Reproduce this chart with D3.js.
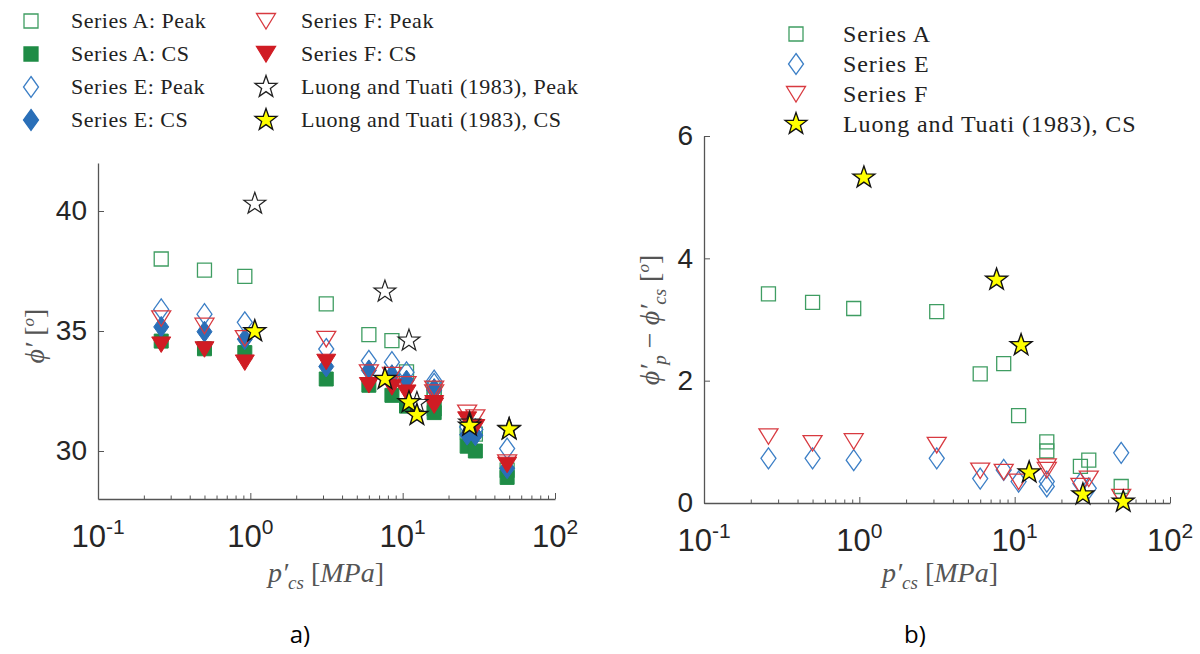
<!DOCTYPE html>
<html>
<head>
<meta charset="utf-8">
<script src="https://cdn.jsdelivr.net/npm/d3@7"></script>
<style>
  body { margin: 0; background: #fff; }
  svg { display: block; }
</style>
</head>
<body>
<div id="chart"></div>
<script>
// Confining pressure at critical state [MPa], shared by series A, E, F
const pcs = [0.26, 0.5, 0.92, 3.15, 6.0, 8.5, 10.6, 16.1, 16.1, 26.5, 30, 48.5];

// Series A
const aPeak = [38.0, 37.54, 37.28, 36.13, 34.85, 34.6, 33.3, 32.6, 32.6, 30.8, 30.7, 29.2];
const aCS   = [34.58, 34.26, 34.1, 33.0, 32.74, 32.32, 31.87, 31.6, 31.75, 30.2, 30.0, 28.9];
const aDiff = [3.42, 3.28, 3.18, 3.13, 2.11, 2.28, 1.43, 1.0, 0.85, 0.6, 0.7, 0.27];

// Series E
const ePeak = [35.9, 35.7, 35.36, 34.25, 33.76, 33.7, 33.28, 32.93, 32.8, 31.0, 30.9, 30.1];
const eCS   = [35.17, 34.97, 34.66, 33.52, 33.36, 33.16, 32.93, 32.58, 32.53, 30.68, 30.66, 29.28];
const eDiff = [0.73, 0.73, 0.70, 0.73, 0.40, 0.54, 0.35, 0.35, 0.27, 0.32, 0.24, 0.82];

// Series F
const fPeak = [35.53, 35.22, 34.7, 34.67, 33.28, 33.17, 32.79, 32.6, 32.44, 31.6, 31.4, 29.53];
const fCS   = [34.44, 34.24, 33.69, 33.72, 32.75, 32.66, 32.44, 32.0, 31.9, 31.32, 31.0, 29.43];
const fDiff = [1.09, 0.98, 1.01, 0.95, 0.53, 0.51, 0.35, 0.60, 0.54, 0.28, 0.40, 0.10];

// Luong and Tuati (1983)
const luongP    = [1.07, 7.65, 11.0, 12.4, 27.5, 50];
const luongPeak = [40.3, 36.64, 34.6, 32.0, 31.18, 30.92];
const luongCS   = [34.99, 33.0, 32.03, 31.5, 31.05, 30.9];
const luongDiff = [5.32, 3.65, 2.58, 0.50, 0.14, 0.02];

// ticks
const xMajor = [0.1, 1, 10, 100];
const xExp = ["-1", "0", "1", "2"];
const yTicksA = [30, 35, 40];
const yTicksB = [0, 2, 4, 6];

// legend labels
const legendA = ["Series A: Peak", "Series A: CS", "Series E: Peak", "Series E: CS",
                 "Series F: Peak", "Series F: CS", "Luong and Tuati (1983), Peak", "Luong and Tuati (1983), CS"];
const legendB = ["Series A", "Series E", "Series F", "Luong and Tuati (1983), CS"];

const w = 1200, h = 654;
const green = "#1f8c46", blue = "#2a6fb8", red = "#d01c24", yellow = "#ffff00";
const axisCol = "#555";

const svg = d3.select("#chart").append("svg").attr("width", w).attr("height", h);

// minor log ticks 2..9 per decade
var xMinor = [];
for (var e = -1; e < 2; e++) {
    for (var m = 2; m < 10; m++) xMinor.push(m * Math.pow(10, e));
}

// marker shapes, centred on 0,0
function marker(shape) {
    if (shape == "square") return "M-7,-7H7V7H-7Z";
    if (shape == "diamond") return "M0,-10.5L7.5,0L0,10.5L-7.5,0Z";
    if (shape == "tri") return "M-9.5,-7.5H9.5L0,8Z";
    // pentagram
    var p = [];
    for (var i = 0; i < 10; i++) {
        var r = i % 2 == 0 ? 11.5 : 4.6;
        var a = -Math.PI / 2 + i * Math.PI / 5;
        p.push([r * Math.cos(a), r * Math.sin(a)]);
    }
    return "M" + p.map(function (d) { return d[0].toFixed(2) + "," + d[1].toFixed(2); }).join("L") + "Z";
}

function drawPoints(g, xs, ys, x, y, shape, fill, stroke, sw) {
    g.append("g").selectAll("path")
        .data(xs.map(function (d, i) { return [d, ys[i]]; }))
        .enter()
        .append("path")
        .attr("d", marker(shape))
        .attr("transform", function (d) { return "translate(" + x(d[0]) + "," + y(d[1]) + ")"; })
        .style("fill", fill)
        .style("stroke", stroke)
        .style("stroke-width", sw)
        .style("stroke-linejoin", "miter");
}

function drawXAxis(x, y0) {
    var g = svg.append("g").attr("transform", "translate(0," + y0 + ")");
    g.call(d3.axisBottom(x).tickValues(xMajor).tickSizeInner(-6).tickSizeOuter(0).tickFormat(""));
    g.append("g").call(d3.axisBottom(x).tickValues(xMinor).tickSizeInner(-3.5).tickSizeOuter(0).tickFormat(""))
        .select(".domain").remove();
    g.selectAll("line").attr("stroke", axisCol);
    g.selectAll(".domain").attr("stroke", axisCol).attr("stroke-width", 1.3);
    var t = g.selectAll(".lab").data(xMajor).enter().append("text")
        .attr("x", function (d) { return x(d); })
        .attr("y", 48)
        .attr("text-anchor", "middle")
        .style("font-family", "Liberation Sans, Arial, sans-serif")
        .style("font-size", "31px")
        .style("fill", "#262626");
    t.append("tspan").text("10");
    t.append("tspan").attr("dy", -13).style("font-size", "21px").text(function (d, i) { return xExp[i]; });
}

function drawYAxis(y, x0, ticks) {
    var g = svg.append("g").attr("transform", "translate(" + x0 + ",0)");
    g.call(d3.axisLeft(y).tickValues(ticks).tickSizeInner(-6).tickSizeOuter(0).tickPadding(11).tickFormat(d3.format("d")));
    g.selectAll("line").attr("stroke", axisCol);
    g.selectAll(".domain").attr("stroke", axisCol).attr("stroke-width", 1.3);
    g.selectAll("text")
        .style("font-family", "Liberation Sans, Arial, sans-serif")
        .style("font-size", "28px")
        .style("fill", "#262626");
}

// ---------- panel a ----------
var xA = d3.scaleLog().domain([0.1, 100]).range([98, 555]);
var yA = d3.scaleLinear().domain([28, 42]).range([499, 163]);

drawYAxis(yA, 98, yTicksA);
drawXAxis(xA, 499);

var gA = svg.append("g");
drawPoints(gA, pcs, aPeak, xA, yA, "square", "none", "#3f9d62", 1.3);
drawPoints(gA, pcs, aCS, xA, yA, "square", green, green, 1);
drawPoints(gA, pcs, ePeak, xA, yA, "diamond", "none", "#3c7fc6", 1.3);
drawPoints(gA, pcs, eCS, xA, yA, "diamond", blue, blue, 1);
drawPoints(gA, pcs, fPeak, xA, yA, "tri", "none", "#d83a40", 1.3);
drawPoints(gA, pcs, fCS, xA, yA, "tri", red, red, 1);
drawPoints(gA, luongP, luongPeak, xA, yA, "star", "none", "#222", 1.2);
drawPoints(gA, luongP, luongCS, xA, yA, "star", yellow, "#111", 1.4);

// ---------- panel b ----------
var xB = d3.scaleLog().domain([0.1, 100]).range([704, 1170]);
var yB = d3.scaleLinear().domain([0, 6]).range([503, 136]);

drawYAxis(yB, 704, yTicksB);
drawXAxis(xB, 503);

var gB = svg.append("g");
drawPoints(gB, pcs, aDiff, xB, yB, "square", "none", "#3f9d62", 1.3);
drawPoints(gB, pcs, eDiff, xB, yB, "diamond", "none", "#3c7fc6", 1.3);
drawPoints(gB, pcs, fDiff, xB, yB, "tri", "none", "#d83a40", 1.3);
drawPoints(gB, luongP, luongDiff, xB, yB, "star", yellow, "#111", 1.4);

// ---------- axis titles ----------
var serif = "Liberation Serif, Times New Roman, serif";

function xTitle(cx) {
    var t = svg.append("text")
        .attr("x", cx).attr("y", 582)
        .attr("text-anchor", "middle")
        .style("font-family", serif).style("font-style", "italic")
        .style("font-size", "28px").style("fill", "#555");
    t.append("tspan").text("p′");
    t.append("tspan").attr("dy", 7).style("font-size", "19px").text("cs");
    t.append("tspan").attr("dy", -7).style("font-style", "normal").text(" [");
    t.append("tspan").text("MPa");
    t.append("tspan").style("font-style", "normal").text("]");
}
xTitle(326);
xTitle(940);

// y title panel a
var ta = svg.append("text")
    .attr("transform", "translate(44,336) rotate(-90)")
    .attr("text-anchor", "middle")
    .style("font-family", serif).style("font-style", "italic")
    .style("font-size", "28px").style("fill", "#555");
ta.append("tspan").text("ϕ′ ");
ta.append("tspan").style("font-style", "normal").text("[");
ta.append("tspan").attr("dy", -10).style("font-size", "17px").text("o");
ta.append("tspan").attr("dy", 10).style("font-style", "normal").text("]");

// y title panel b
var tb = svg.append("text")
    .attr("transform", "translate(659,320) rotate(-90)")
    .attr("text-anchor", "middle")
    .style("font-family", serif).style("font-style", "italic")
    .style("font-size", "28px").style("fill", "#555");
tb.append("tspan").text("ϕ′");
tb.append("tspan").attr("dy", 7).style("font-size", "19px").text("p");
tb.append("tspan").attr("dy", -7).style("font-style", "normal").text(" − ");
tb.append("tspan").text("ϕ′");
tb.append("tspan").attr("dy", 7).style("font-size", "19px").text("cs");
tb.append("tspan").attr("dy", -7).style("font-style", "normal").text(" [");
tb.append("tspan").attr("dy", -10).style("font-size", "17px").text("o");
tb.append("tspan").attr("dy", 10).style("font-style", "normal").text("]");

// ---------- legends ----------
var legShapesA = [
    ["square", "none", "#3f9d62"], ["square", green, green], ["diamond", "none", "#3c7fc6"], ["diamond", blue, blue],
    ["tri", "none", "#d83a40"], ["tri", red, red], ["star", "none", "#222"], ["star", yellow, "#111"]
];
var rowsA = [21, 54, 87, 120];
legendA.forEach(function (lab, i) {
    var col = Math.floor(i / 4), row = i % 4;
    var sx = col == 0 ? 31 : 266, tx = col == 0 ? 71 : 301;
    var s = legShapesA[i];
    svg.append("path").attr("d", marker(s[0]))
        .attr("transform", "translate(" + sx + "," + rowsA[row] + ")")
        .style("fill", s[1]).style("stroke", s[2]).style("stroke-width", 1.3);
    svg.append("text").attr("x", tx).attr("y", rowsA[row] + 7)
        .style("font-family", serif).style("font-size", "22px").style("letter-spacing", "0.5px")
        .style("fill", "#222")
        .text(lab);
});

var legShapesB = [["square", "none", "#3f9d62"], ["diamond", "none", "#3c7fc6"], ["tri", "none", "#d83a40"], ["star", yellow, "#111"]];
var rowsB = [34, 64, 94, 124];
legendB.forEach(function (lab, i) {
    var s = legShapesB[i];
    svg.append("path").attr("d", marker(s[0]))
        .attr("transform", "translate(796," + rowsB[i] + ")")
        .style("fill", s[1]).style("stroke", s[2]).style("stroke-width", 1.3);
    svg.append("text").attr("x", 843).attr("y", rowsB[i] + 8)
        .style("font-family", serif).style("font-size", "24px").style("letter-spacing", "0.9px")
        .style("fill", "#222")
        .text(lab);
});

// panel letters
svg.append("text").attr("x", 300).attr("y", 643).attr("text-anchor", "middle")
    .style("font-family", "Open Sans, Liberation Sans, sans-serif").style("font-size", "24px").text("a)");
svg.append("text").attr("x", 915).attr("y", 643).attr("text-anchor", "middle")
    .style("font-family", "Open Sans, Liberation Sans, sans-serif").style("font-size", "24px").text("b)");
</script>
</body>
</html>
